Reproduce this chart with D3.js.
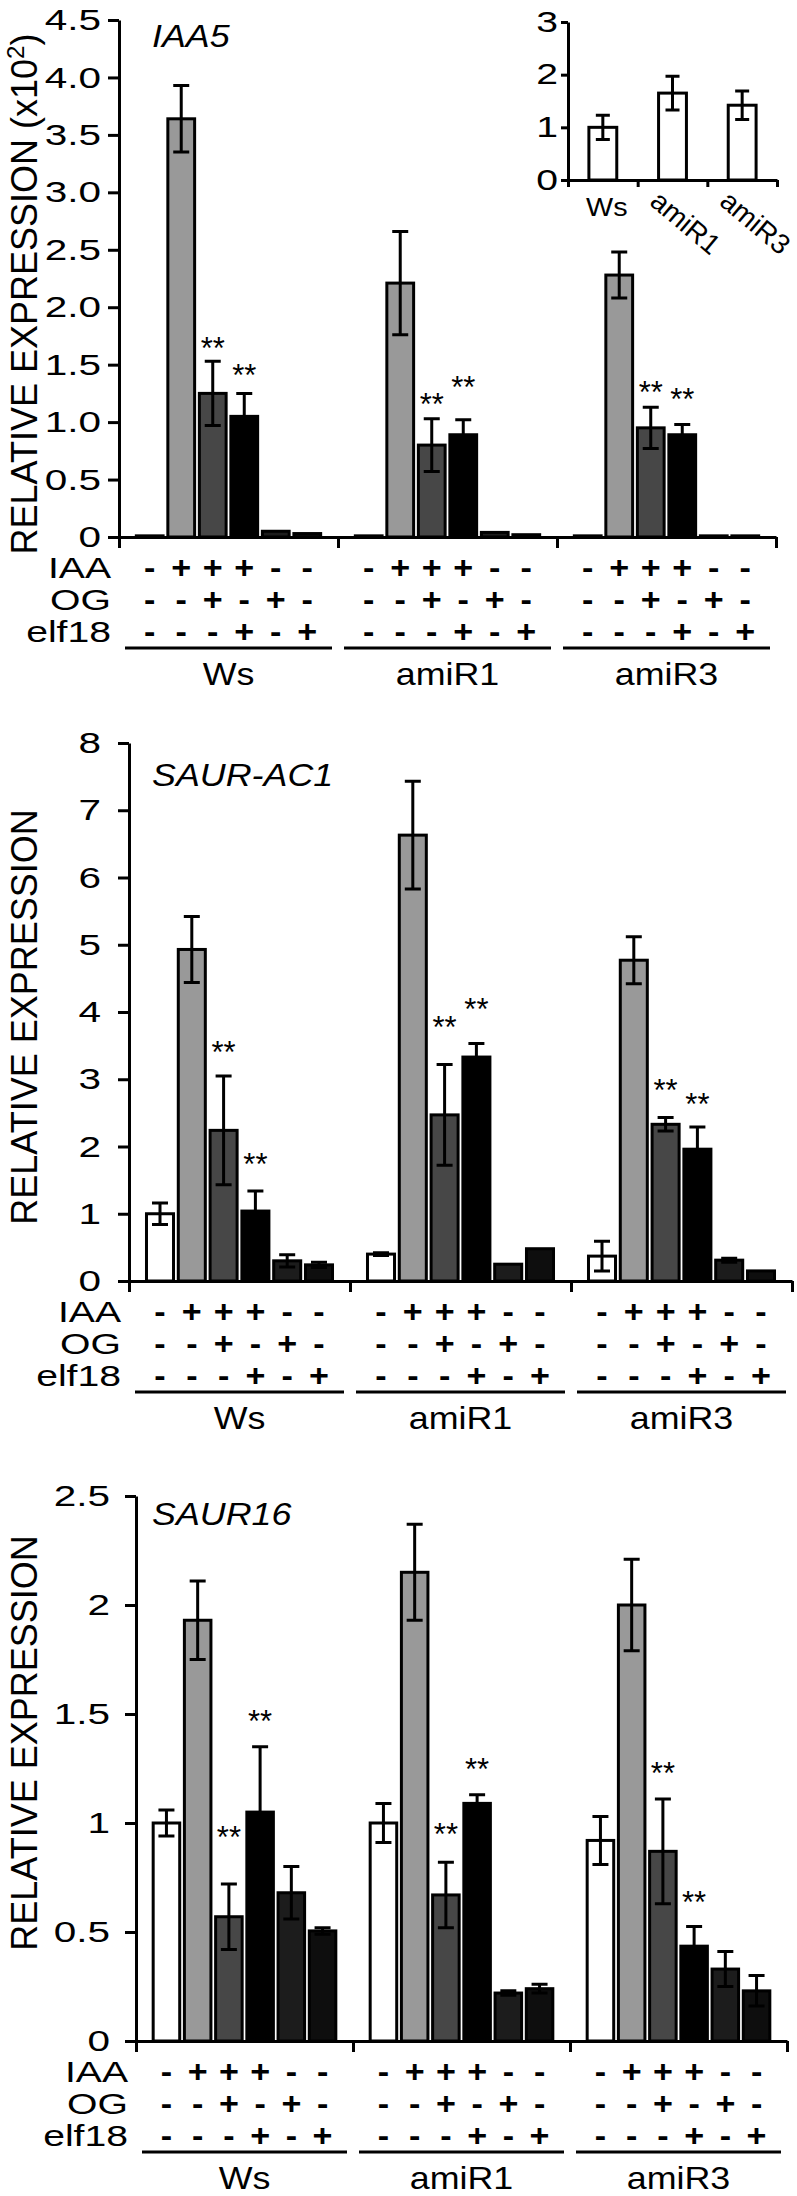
<!DOCTYPE html>
<html>
<head>
<meta charset="utf-8">
<script src="https://cdn.jsdelivr.net/npm/d3@7"></script>
<style>
  body { margin: 0; background: #fff; }
  svg { display: block; font-family: "Liberation Sans", Arial, sans-serif; }
  .axis path, .axis line { stroke: #000; stroke-width: 3; fill: none; }
  .axis text { fill: #000; }
  .bar { stroke: #000; stroke-width: 3; }
  .err { stroke: #000; stroke-width: 3; fill: none; }
  .under { stroke: #000; stroke-width: 3; }
</style>
</head>
<body>
<svg id="chart"></svg>
<script>
// categories
const groups = ['Ws', 'amiR1', 'amiR3'];
const treatmentRows = ['IAA', 'OG', 'elf18'];
const iaaSigns = ['-', '+', '+', '+', '-', '-'];
const ogSigns = ['-', '-', '+', '-', '+', '-'];
const elf18Signs = ['-', '-', '-', '+', '-', '+'];
const barFills = ['#ffffff', '#999999', '#474747', '#000000', '#1c1c1c', '#0e0e0e'];

// IAA5 (x10^2)
const iaa5Mean = [
  [0.01, 3.64, 1.25, 1.05, 0.05, 0.03],
  [0.01, 2.21, 0.80, 0.89, 0.04, 0.02],
  [0.01, 2.28, 0.95, 0.89, 0.01, 0.01]
];
const iaa5Err = [
  [0, 0.29, 0.28, 0.20, 0, 0],
  [0, 0.45, 0.23, 0.13, 0, 0],
  [0, 0.20, 0.18, 0.09, 0, 0]
];
const iaa5Stars = [
  [null, null, 1.71, 1.47, null, null],
  [null, null, 1.22, 1.37, null, null],
  [null, null, 1.32, 1.26, null, null]
];
const iaa5Ticks = [0, 0.5, 1, 1.5, 2, 2.5, 3, 3.5, 4, 4.5];
const iaa5TickLabels = ['0', '0.5', '1.0', '1.5', '2.0', '2.5', '3.0', '3.5', '4.0', '4.5'];

// IAA5 inset, untreated
const insetMean = [1.00, 1.65, 1.42];
const insetErr = [0.23, 0.32, 0.27];
const insetTicks = [0, 1, 2, 3];

// SAUR-AC1
const saurAc1Mean = [
  [1.00, 4.93, 2.24, 1.04, 0.30, 0.24],
  [0.40, 6.63, 2.47, 3.33, 0.25, 0.48],
  [0.37, 4.77, 2.33, 1.96, 0.31, 0.15]
];
const saurAc1Err = [
  [0.16, 0.49, 0.81, 0.30, 0.09, 0.04],
  [0.02, 0.80, 0.75, 0.20, 0, 0],
  [0.22, 0.35, 0.10, 0.33, 0.03, 0]
];
const saurAc1Stars = [
  [null, null, 3.51, 1.84, null, null],
  [null, null, 3.88, 4.15, null, null],
  [null, null, 2.94, 2.73, null, null]
];
const saurAc1Ticks = [0, 1, 2, 3, 4, 5, 6, 7, 8];
const saurAc1TickLabels = ['0', '1', '2', '3', '4', '5', '6', '7', '8'];

// SAUR16
const saur16Mean = [
  [1.00, 1.93, 0.57, 1.05, 0.68, 0.505],
  [1.00, 2.15, 0.67, 1.09, 0.22, 0.24],
  [0.92, 2.00, 0.87, 0.435, 0.33, 0.23]
];
const saur16Err = [
  [0.06, 0.18, 0.15, 0.30, 0.12, 0.015],
  [0.09, 0.22, 0.15, 0.04, 0.01, 0.02],
  [0.11, 0.21, 0.24, 0.09, 0.08, 0.07]
];
const saur16Stars = [
  [null, null, 0.97, 1.50, null, null],
  [null, null, 0.98, 1.28, null, null],
  [null, null, 1.26, 0.67, null, null]
];
const saur16Ticks = [0, 0.5, 1, 1.5, 2, 2.5];
const saur16TickLabels = ['0', '0.5', '1', '1.5', '2', '2.5'];

const TEXT_SX = 1.35; // the figure's lettering is drawn wide

const svg = d3.select('#chart')
    .attr('width', 797)
    .attr('height', 2196);

class GroupedBars {

  constructor(_config, _mean, _err, _stars) {
    this.config = _config;
    this.mean = _mean;
    this.err = _err;
    this.stars = _stars;
    this.initVis();
  }

  initVis() {
    let vis = this;
    const c = vis.config;

    vis.yScale = d3.scaleLinear()
        .domain([0, c.yMax])
        .range([c.y0, c.yTop]);

    vis.groupScale = d3.scaleBand()
        .domain(groups)
        .range([c.left, c.right]);

    vis.barScale = d3.scaleBand()
        .domain(d3.range(6))
        .range([0, vis.groupScale.bandwidth()])
        .paddingInner(0.15)
        .paddingOuter(0.55);

    vis.g = svg.append('g');

    // y axis
    vis.yAxis = d3.axisLeft(vis.yScale)
        .tickValues(c.ticks)
        .tickFormat((d, i) => c.tickLabels[i])
        .tickSize(11)
        .tickSizeOuter(0);

    vis.yAxisG = vis.g.append('g')
        .attr('class', 'axis y-axis')
        .attr('transform', `translate(${c.left},0)`)
        .call(vis.yAxis);

    vis.yAxisG.attr('font-family', null).attr('font-size', null);
    vis.yAxisG.selectAll('text')
        .attr('font-size', 30)
        .attr('x', -(11 + c.tickPad) / TEXT_SX)
        .attr('transform', `scale(${TEXT_SX},1)`);

    // x axis, ticks only at the group boundaries
    vis.xEdge = d3.scaleLinear()
        .domain([0, groups.length])
        .range([c.left, c.right]);

    vis.xAxis = d3.axisBottom(vis.xEdge)
        .tickValues(d3.range(groups.length + 1))
        .tickFormat('')
        .tickSize(11)
        .tickSizeOuter(0);

    vis.g.append('g')
        .attr('class', 'axis x-axis')
        .attr('transform', `translate(0,${c.y0})`)
        .call(vis.xAxis);

    // axis title
    const title = vis.g.append('text')
        .attr('transform', `translate(37,${c.titleMid}) rotate(-90)`)
        .attr('text-anchor', 'middle')
        .attr('font-size', 36)
        .text('RELATIVE EXPRESSION');
    if (c.scaled) {
      title.text('RELATIVE EXPRESSION (x10');
      title.append('tspan').attr('dy', -13).attr('font-size', 24).text('2');
      title.append('tspan').attr('dy', 13).text(')');
    }

    // gene name
    vis.g.append('text')
        .attr('transform', `translate(152,${c.geneY}) scale(1.12,1)`)
        .attr('font-size', 32)
        .attr('font-style', 'italic')
        .text(c.gene);
  }

  renderVis() {
    let vis = this;
    const c = vis.config;

    const flat = [];
    groups.forEach((grp, gi) => {
      vis.mean[gi].forEach((m, bi) => {
        flat.push({
          group: grp, bar: bi, mean: m,
          err: vis.err[gi][bi], star: vis.stars[gi][bi],
          x: vis.groupScale(grp) + vis.barScale(bi)
        });
      });
    });
    const bw = vis.barScale.bandwidth();

    vis.g.append('g').selectAll('rect')
        .data(flat)
        .join('rect')
        .attr('class', 'bar')
        .attr('x', d => d.x)
        .attr('width', bw)
        .attr('y', d => vis.yScale(d.mean))
        .attr('height', d => c.y0 - vis.yScale(d.mean))
        .attr('fill', d => barFills[d.bar]);

    const errs = flat.filter(d => d.err > 0);
    vis.g.append('g').selectAll('path')
        .data(errs)
        .join('path')
        .attr('class', 'err')
        .attr('d', d => {
          const cx = d.x + bw / 2;
          const hi = vis.yScale(d.mean + d.err);
          const lo = vis.yScale(d.mean - d.err);
          return `M${cx},${hi}V${lo}M${cx - 8},${hi}H${cx + 8}M${cx - 8},${lo}H${cx + 8}`;
        });

    vis.g.append('g').selectAll('text')
        .data(flat.filter(d => d.star !== null))
        .join('text')
        .attr('x', d => d.x + bw / 2)
        .attr('y', d => vis.yScale(d.star) + 18)
        .attr('text-anchor', 'middle')
        .attr('font-size', 31)
        .text('**');

    // treatment table
    const rowSigns = [iaaSigns, ogSigns, elf18Signs];
    const rowOffsets = [31, 63, 95];
    treatmentRows.forEach((row, ri) => {
      const cy = c.y0 + rowOffsets[ri];
      vis.g.append('text')
          .attr('transform', `translate(${c.left - 8},${cy + 10}) scale(${TEXT_SX},1)`)
          .attr('text-anchor', 'end')
          .attr('font-size', 29)
          .text(row);
      vis.g.append('g').selectAll('text')
          .data(flat)
          .join('text')
          .attr('transform', d => `translate(${d.x + bw / 2},${cy + 10}) scale(1.1,1)`)
          .attr('text-anchor', 'middle')
          .attr('font-size', 31)
          .attr('font-weight', 'bold')
          .text(d => rowSigns[ri][d.bar]);
    });

    vis.g.append('g').selectAll('line')
        .data(groups)
        .join('line')
        .attr('class', 'under')
        .attr('x1', d => vis.groupScale(d) + 6)
        .attr('x2', d => vis.groupScale(d) + vis.groupScale.bandwidth() - 6)
        .attr('y1', c.y0 + 111)
        .attr('y2', c.y0 + 111);

    vis.g.append('g').selectAll('text')
        .data(groups)
        .join('text')
        .attr('transform', d => `translate(${vis.groupScale(d) + vis.groupScale.bandwidth() / 2},${c.y0 + 148}) scale(1.12,1)`)
        .attr('text-anchor', 'middle')
        .attr('font-size', 32)
        .text(d => d);
  }
}

const iaa5Chart = new GroupedBars({
  gene: 'IAA5', scaled: true, left: 119, right: 776, y0: 537, yTop: 20, yMax: 4.5,
  ticks: iaa5Ticks, tickLabels: iaa5TickLabels, tickPad: 7, geneY: 47, titleMid: 294
}, iaa5Mean, iaa5Err, iaa5Stars);
iaa5Chart.renderVis();

const saurAc1Chart = new GroupedBars({
  gene: 'SAUR-AC1', scaled: false, left: 129, right: 792, y0: 1281, yTop: 743, yMax: 8,
  ticks: saurAc1Ticks, tickLabels: saurAc1TickLabels, tickPad: 17, geneY: 786, titleMid: 1017
}, saurAc1Mean, saurAc1Err, saurAc1Stars);
saurAc1Chart.renderVis();

const saur16Chart = new GroupedBars({
  gene: 'SAUR16', scaled: false, left: 136, right: 787, y0: 2041, yTop: 1496, yMax: 2.5,
  ticks: saur16Ticks, tickLabels: saur16TickLabels, tickPad: 15, geneY: 1525, titleMid: 1743
}, saur16Mean, saur16Err, saur16Stars);
saur16Chart.renderVis();

// inset: untreated IAA5 levels
const inset = svg.append('g');
const insetX = d3.scaleBand()
    .domain(groups)
    .range([568, 777])
    .paddingInner(0.6)
    .paddingOuter(0.3);
const insetY = d3.scaleLinear()
    .domain([0, 3])
    .range([180, 22]);

const insetYAxisG = inset.append('g')
    .attr('class', 'axis')
    .attr('transform', 'translate(568,0)')
    .call(d3.axisLeft(insetY).tickValues(insetTicks).tickFormat(d3.format('d')).tickSize(7).tickSizeOuter(0));
insetYAxisG.attr('font-family', null).attr('font-size', null);
insetYAxisG.selectAll('text')
    .attr('font-size', 29)
    .attr('x', -10 / TEXT_SX)
    .attr('transform', `scale(${TEXT_SX},1)`);

const insetEdge = d3.scaleLinear().domain([0, 3]).range([568, 777]);
inset.append('g')
    .attr('class', 'axis')
    .attr('transform', 'translate(0,180)')
    .call(d3.axisBottom(insetEdge).tickValues([0, 1, 2, 3]).tickFormat('').tickSize(7).tickSizeOuter(0));

inset.append('g').selectAll('rect')
    .data(groups)
    .join('rect')
    .attr('class', 'bar')
    .attr('x', d => insetX(d))
    .attr('width', insetX.bandwidth())
    .attr('y', (d, i) => insetY(insetMean[i]))
    .attr('height', (d, i) => 180 - insetY(insetMean[i]))
    .attr('fill', '#fff');

inset.append('g').selectAll('path')
    .data(groups)
    .join('path')
    .attr('class', 'err')
    .attr('d', (d, i) => {
      const cx = insetX(d) + insetX.bandwidth() / 2;
      const hi = insetY(insetMean[i] + insetErr[i]);
      const lo = insetY(insetMean[i] - insetErr[i]);
      return `M${cx},${hi}V${lo}M${cx - 7},${hi}H${cx + 7}M${cx - 7},${lo}H${cx + 7}`;
    });

inset.append('g').selectAll('text')
    .data(groups)
    .join('text')
    .attr('transform', d => {
      const cx = insetX(d) + insetX.bandwidth() / 2;
      return d.length > 2 ? `translate(${cx - 24},204) rotate(40)` : `translate(${cx + 4},216) scale(1.15,1)`;
    })
    .attr('text-anchor', d => d.length > 2 ? 'start' : 'middle')
    .attr('font-size', d => d.length > 2 ? 28 : 25)
    .text(d => d);
</script>
</body>
</html>
